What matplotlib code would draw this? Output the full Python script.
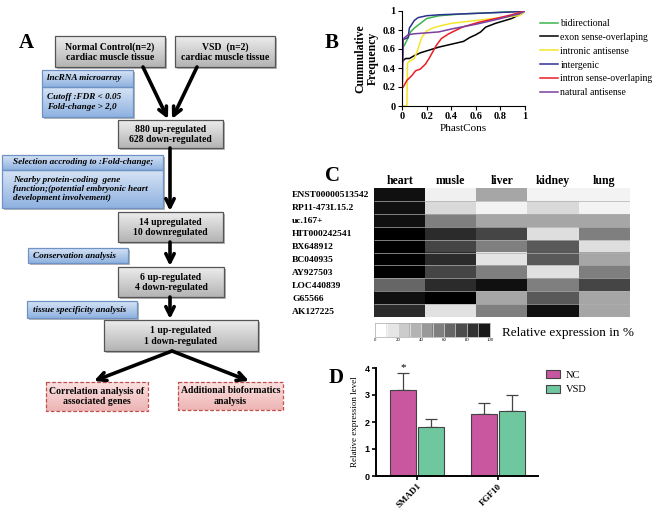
import numpy as np
import matplotlib
matplotlib.use('Agg')
import matplotlib.pyplot as plt
from matplotlib.patches import Rectangle
from matplotlib.colors import LinearSegmentedColormap
from matplotlib.ticker import FuncFormatter

W, H = 662, 517
SERIF = 'Liberation Serif'
SANS = 'Liberation Sans'

# ---- panel B: cumulative frequency of PhastCons scores
b_names = ['bidirectional', 'exon sense-overlaping', 'intronic antisense',
           'intergenic', 'intron sense-overlaping', 'natural antisense']
b_colors = ['#3db54a', '#000000', '#f4e52a', '#2e3192', '#ec1c24', '#7b3f9e']
bidir_x = [0, 0.02, 0.05, 0.07, 0.1, 0.15, 0.2, 0.3, 0.5, 0.7, 1.0]
bidir_y = [0.6, 0.64, 0.72, 0.78, 0.82, 0.87, 0.92, 0.95, 0.97, 0.98, 1.0]
exon_x = [0, 0.01, 0.03, 0.06, 0.1, 0.15, 0.2, 0.25, 0.3, 0.4, 0.5, 0.55, 0.6, 0.64, 0.68, 0.76, 0.89, 0.97, 1.0]
exon_y = [0.45, 0.48, 0.5, 0.5, 0.53, 0.56, 0.58, 0.6, 0.62, 0.65, 0.68, 0.72, 0.75, 0.78, 0.83, 0.87, 0.92, 0.97, 1.0]
intronic_x = [0, 0.04, 0.045, 0.06, 0.1, 0.13, 0.16, 0.2, 0.25, 0.3, 0.4, 0.6, 0.8, 0.95, 1.0]
intronic_y = [0, 0, 0.45, 0.47, 0.5, 0.6, 0.72, 0.79, 0.82, 0.84, 0.87, 0.9, 0.93, 0.95, 1.0]
intergenic_x = [0, 0.005, 0.01, 0.03, 0.05, 0.06, 0.08, 0.1, 0.13, 0.2, 0.3, 0.5, 0.7, 0.9, 1.0]
intergenic_y = [0.42, 0.5, 0.7, 0.71, 0.72, 0.82, 0.86, 0.9, 0.93, 0.95, 0.96, 0.97, 0.98, 0.99, 1.0]
intron_x = [0, 0.01, 0.04, 0.08, 0.11, 0.15, 0.19, 0.22, 0.25, 0.28, 0.32, 0.38, 0.49, 0.62, 0.76, 0.89, 0.97, 1.0]
intron_y = [0.18, 0.2, 0.27, 0.32, 0.37, 0.39, 0.44, 0.5, 0.57, 0.64, 0.71, 0.76, 0.83, 0.88, 0.92, 0.96, 0.99, 1.0]
natural_x = [0, 0.005, 0.01, 0.02, 0.05, 0.1, 0.2, 0.3, 0.4, 0.6, 0.8, 0.95, 1.0]
natural_y = [0.12, 0.3, 0.7, 0.72, 0.75, 0.76, 0.77, 0.78, 0.81, 0.86, 0.92, 0.97, 1.0]
b_x = [bidir_x, exon_x, intronic_x, intergenic_x, intron_x, natural_x]
b_y = [bidir_y, exon_y, intronic_y, intergenic_y, intron_y, natural_y]

# ---- panel C: relative expression (%) per tissue
tissues = ['heart', 'musle', 'liver', 'kidney', 'lung']
lncrnas = ['ENST00000513542', 'RP11-473L15.2', 'uc.167+', 'HIT000242541', 'BX648912',
           'BC040935', 'AY927503', 'LOC440839', 'G65566', 'AK127225']
expr = np.array([
    [93, 6, 35, 5, 5],
    [93, 15, 5, 15, 5],
    [93, 50, 35, 35, 35],
    [100, 83, 73, 13, 50],
    [100, 73, 50, 65, 13],
    [100, 83, 11, 65, 35],
    [100, 73, 50, 12, 50],
    [60, 83, 93, 50, 73],
    [93, 100, 35, 65, 35],
    [83, 12, 50, 93, 35],
])
cbar_levels = [0, 10, 20, 30, 40, 50, 60, 70, 80, 90]
cbar_ticks = [0, 20, 40, 60, 80, 100]

# ---- panel D: qPCR
genes = ['SMAD1', 'FGF10']
nc_mean = [3.2, 2.3]
nc_err = [0.6, 0.4]
vsd_mean = [1.8, 2.4]
vsd_err = [0.3, 0.6]

# ---- panel A: flowchart text
gray_texts = ['Normal Control(n=2)\ncardiac muscle tissue', 'VSD  (n=2)\ncardiac muscle tissue',
              '880 up-regulated\n628 down-regulated', '14 upregulated\n10 downregulated',
              '6 up-regulated\n4 down-regulated', '1 up-regulated\n1 down-regulated']
blue_texts = ['lncRNA microarray', 'Cutoff :FDR < 0.05\nFold-change > 2,0',
              'Selection accroding to :Fold-change;',
              'Nearby protein-coding  gene\nfunction;(potential embryonic heart\ndevelopment involvement)',
              'Conservation analysis', 'tissue specificity analysis']
pink_texts = ['Correlation analysis of\nassociated genes', 'Additional bioformatics\nanalysis']


def rect(l, t, r, b):
    return [l / W, 1 - b / H, (r - l) / W, (b - t) / H]


fig = plt.figure(figsize=(W / 100, H / 100), dpi=100)

# ================= A: flowchart, drawn in pixel coordinates
ax0 = fig.add_axes([0, 0, 1, 1])
ax0.set_axis_off()
gray_cm = LinearSegmentedColormap.from_list('g', ['#ececec', '#b4b4b4'])
blue_cm = LinearSegmentedColormap.from_list('b', ['#d6e3f5', '#8fb2e0'])
pink_cm = LinearSegmentedColormap.from_list('p', ['#fbe0e0', '#eeb4b4'])
grad = np.linspace(0, 1, 50).reshape(-1, 1)


def box(l, t, r, b, cm, edge, shadow=True, ls='-'):
    if shadow:
        ax0.add_patch(Rectangle((l + 2, t + 2), r - l, b - t, color='#7a7a7a', alpha=0.55, lw=0, zorder=1))
    ax0.imshow(grad, extent=[l, r, b, t], cmap=cm, aspect='auto', zorder=2, interpolation='bilinear')
    ax0.add_patch(Rectangle((l, t), r - l, b - t, fill=False, ec=edge, lw=0.9, ls=ls, zorder=3))


gray_boxes = [(55, 36, 165, 67), (175, 36, 275, 67), (118, 120, 223, 148),
              (118, 212, 223, 242), (118, 267, 224, 297), (104, 320, 258, 351)]
for (l, t, r, b), s in zip(gray_boxes, gray_texts):
    box(l, t, r, b, gray_cm, '#555555')
    ax0.text((l + r) / 2, (t + b) / 2 + 0.5, s, ha='center', va='center', fontsize=7,
             family=SERIF, weight='bold', linespacing=1.2, zorder=4)

blue_boxes = [(42, 70, 133, 87), (42, 87, 133, 117), (2, 155, 163, 170),
              (2, 170, 163, 208), (28, 248, 128, 263), (27, 301, 137, 318)]
blue_tx = [47, 47, 13, 13, 33, 33]
for (l, t, r, b), s, x in zip(blue_boxes, blue_texts, blue_tx):
    box(l, t, r, b, blue_cm, '#6f92c4')
    ax0.text(x, (t + b) / 2, s, ha='left', va='center', fontsize=6.6, family=SERIF,
             weight='bold', style='italic', linespacing=1.2, zorder=4)

pink_boxes = [(46, 382, 148, 411), (178, 382, 283, 410)]
for (l, t, r, b), s in zip(pink_boxes, pink_texts):
    box(l, t, r, b, pink_cm, '#c0504d', shadow=False, ls=(0, (3, 1.5)))
    ax0.text((l + r) / 2, (t + b) / 2, s, ha='center', va='center', fontsize=7,
             family=SERIF, weight='bold', linespacing=1.2, zorder=4)

arrows = [((143, 67), (168, 119)), ((197, 67), (172, 119)), ((170, 148), (170, 211)),
          ((170, 242), (170, 266)), ((170, 297), (170, 319)), ((172, 351), (94, 381)),
          ((172, 351), (249, 381))]
for p0, p1 in arrows:
    ax0.annotate('', xy=p1, xytext=p0, zorder=5,
                 arrowprops=dict(arrowstyle='->', lw=2.6, color='black', mutation_scale=15,
                                 shrinkA=0, shrinkB=0))

ax0.set_xlim(0, W)
ax0.set_ylim(H, 0)

for lab, x, y in [('A', 26, 43), ('B', 332, 43), ('C', 332, 176), ('D', 336, 378)]:
    fig.text(x / W, 1 - y / H, lab, fontsize=15, family=SERIF, weight='bold', ha='center', va='center')

# ================= B: cumulative frequency
axb = fig.add_axes(rect(402, 11, 525, 106))
for xs, ys, c, n in zip(b_x, b_y, b_colors, b_names):
    axb.plot(xs, ys, color=c, lw=1.1, label=n)
axb.set_xlim(0, 1)
axb.set_ylim(0, 1)
ticks = [0, 0.2, 0.4, 0.6, 0.8, 1.0]
axb.set_xticks(ticks)
axb.set_yticks(ticks)
fmt = FuncFormatter(lambda v, p: '%g' % v)
axb.xaxis.set_major_formatter(fmt)
axb.yaxis.set_major_formatter(fmt)
for s in ['top', 'right']:
    axb.spines[s].set_visible(False)
axb.tick_params(length=3, width=0.8, pad=1.5, labelsize=7.5)
for t in axb.get_xticklabels() + axb.get_yticklabels():
    t.set_family(SERIF)
    t.set_weight('bold')
axb.set_xlabel('PhastCons', family=SERIF, fontsize=8, labelpad=2)
axb.set_ylabel('Cummulative\nFrequency', family=SERIF, fontsize=8.5, weight='bold',
               labelpad=3, linespacing=1.0)
fig.legend(*axb.get_legend_handles_labels(), loc='upper left',
           bbox_to_anchor=(540 / W, 1 - 19 / H), frameon=False, borderpad=0, borderaxespad=0,
           handlelength=1.8, handletextpad=0.3, labelspacing=0.5,
           prop=dict(family=SERIF, size=7))

# ================= C: heatmap
axc = fig.add_axes(rect(374, 188, 630, 317))
axc.imshow(expr, cmap='gray_r', vmin=0, vmax=100, aspect='auto', interpolation='nearest')
axc.hlines(np.arange(0.5, len(lncrnas) - 0.5, 1), -0.5, len(tissues) - 0.5, color='#b0b0b0', lw=0.5)
axc.set_xticks(range(len(tissues)))
axc.set_xticklabels(tissues, family=SERIF, weight='bold', fontsize=8.5)
axc.xaxis.tick_top()
axc.set_yticks(range(len(lncrnas)))
axc.set_yticklabels(lncrnas, family=SERIF, weight='bold', fontsize=6.8, ha='left')
axc.tick_params(length=0, pad=1)
axc.tick_params(axis='y', pad=59)
for s in axc.spines.values():
    s.set_visible(False)

axcb = fig.add_axes(rect(375, 323, 490, 337))
axcb.imshow(np.array(cbar_levels).reshape(1, -1), cmap='gray_r', vmin=0, vmax=100,
            aspect='auto', extent=[0, 100, 0, 1], interpolation='nearest')
axcb.vlines(cbar_levels[1:], 0, 1, color='white', lw=0.4)
axcb.set_yticks([])
axcb.set_xticks(cbar_ticks)
axcb.set_xticklabels([str(v) for v in cbar_ticks], family=SERIF, fontsize=3.5)
axcb.tick_params(length=0, pad=1)
for s in axcb.spines.values():
    s.set_color('#aaaaaa')
    s.set_linewidth(0.5)
fig.text(502 / W, 1 - 333 / H, 'Relative expression in %', family=SERIF, fontsize=9.5,
         ha='left', va='center')

# ================= D: bar chart
axd = fig.add_axes(rect(376, 368, 538, 476))
xg = np.arange(len(genes))
bw = 0.32
off = 0.172
nc_col = '#c9579f'
vsd_col = '#6fc79f'
axd.bar(xg - off, nc_mean, bw, color=nc_col, edgecolor='#444444', lw=0.8, label='NC', zorder=2)
axd.bar(xg + off, vsd_mean, bw, color=vsd_col, edgecolor='#444444', lw=0.8, label='VSD', zorder=2)
axd.errorbar(xg - off, nc_mean, yerr=[np.zeros(2), nc_err], fmt='none', ecolor='#444444',
             elinewidth=0.9, capsize=4, capthick=0.9, zorder=1)
axd.errorbar(xg + off, vsd_mean, yerr=[np.zeros(2), vsd_err], fmt='none', ecolor='#444444',
             elinewidth=0.9, capsize=4, capthick=0.9, zorder=1)
axd.text(xg[0] - off, nc_mean[0] + nc_err[0] + 0.22, '*', ha='center', va='center',
         fontsize=8, family=SERIF, clip_on=False)
axd.set_xlim(-0.506, 1.494)
axd.set_ylim(0, 4)
axd.set_yticks([0, 1, 2, 3, 4])
axd.set_xticks(xg)
axd.set_xticklabels(genes, rotation=45, ha='right', rotation_mode='anchor',
                    family=SERIF, weight='bold', fontsize=7)
for t in axd.get_yticklabels():
    t.set_family(SANS)
    t.set_weight('bold')
axd.tick_params(labelsize=6.5, length=3, width=1.2, pad=1.5)
for s in ['top', 'right']:
    axd.spines[s].set_visible(False)
for s in ['left', 'bottom']:
    axd.spines[s].set_linewidth(1.4)
axd.set_ylabel('Relative expression level', family=SERIF, fontsize=6.5, labelpad=4)
axd.legend(loc='upper left', bbox_to_anchor=(546 / W, 1 - 370 / H),
           bbox_transform=fig.transFigure, frameon=False, borderpad=0, borderaxespad=0,
           handlelength=1.3, handleheight=0.8, handletextpad=0.6, labelspacing=0.5,
           prop=dict(family=SERIF, size=7.5))

fig.savefig('out.png', dpi=100)
